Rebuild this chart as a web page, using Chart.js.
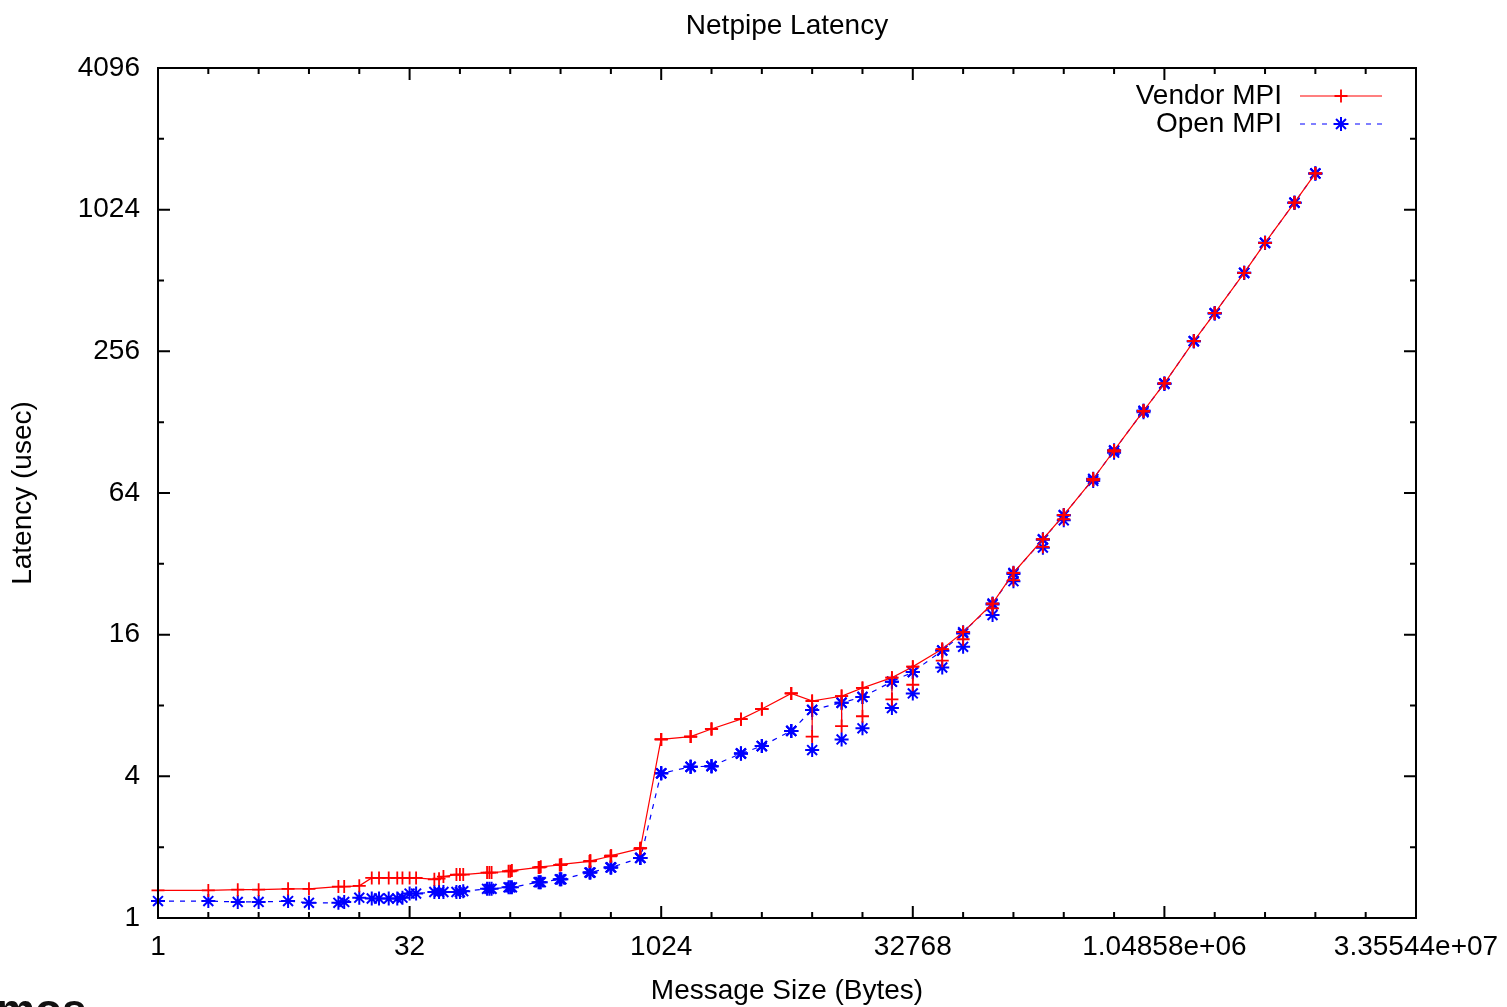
<!DOCTYPE html>
<html>
<head>
<meta charset="utf-8">
<title>Netpipe Latency</title>
<script src="https://cdn.jsdelivr.net/npm/chart.js@4/dist/chart.umd.min.js"></script>
<style>
  html, body { margin: 0; padding: 0; background: #fff; overflow: hidden; }
  #wrap { position: relative; width: 1507px; height: 1007px; }
  #logo { position: absolute; left: -4px; top: 988px; font: bold 44px "Liberation Sans", Arial, sans-serif; color: #111; line-height: 44px; }
</style>
</head>
<body>
<div id="wrap">
  <canvas id="chart" width="1507" height="1007"></canvas>
  <div id="logo">mos</div>
</div>
<script>
// message sizes (bytes), NetPIPE order: n-3, n, n+3
const sizes = [
  1, 2, 3, 4, 6, 8, 12, 13, 16, 19, 21, 24, 27, 29, 32, 35,
  45, 48, 51, 61, 64, 67, 93, 96, 99, 125, 128, 131,
  189, 192, 195, 253, 256, 259, 381, 384, 387, 509, 512, 515, 765, 768, 771,
  1021, 1024, 1027, 1533, 1536, 1539, 2045, 2048, 2051, 3069, 3072, 3075,
  4093, 4096, 4099, 6141, 6144, 6147, 8189, 8192, 8195, 12285, 12288, 12291,
  16381, 16384, 16387, 24573, 24576, 24579, 32765, 32768, 32771,
  49149, 49152, 49155, 65533, 65536, 65539, 98301, 98304, 98307,
  131069, 131072, 131075, 196605, 196608, 196611, 262141, 262144, 262147,
  393213, 393216, 393219, 524285, 524288, 524291, 786429, 786432, 786435,
  1048573, 1048576, 1048579, 1572861, 1572864, 1572867, 2097149, 2097152, 2097155,
  3145725, 3145728, 3145731, 4194301, 4194304, 4194307, 6291453, 6291456, 6291459,
  8388605, 8388608, 8388611
];

// latency in usec
const vendorMPI = [
  1.31, 1.31, 1.32, 1.32, 1.33, 1.33, 1.36, 1.36, 1.37, 1.48, 1.48, 1.48, 1.48, 1.48, 1.48, 1.48,
  1.46, 1.47, 1.50, 1.53, 1.53, 1.53, 1.56, 1.56, 1.56, 1.58, 1.58, 1.59,
  1.64, 1.64, 1.65, 1.68, 1.68, 1.69, 1.74, 1.75, 1.75, 1.83, 1.84, 1.84, 1.97, 1.98, 1.98,
  5.74, 5.74, 5.74, 5.9, 5.9, 5.9, 6.36, 6.36, 6.36, 7.0, 7.0, 7.0,
  7.73, 7.73, 7.73, 9.0, 9.0, 9.0, 8.36, 5.9, 8.36, 8.77, 6.54, 8.77,
  9.5, 7.2, 9.5, 10.5, 8.5, 10.5, 11.7, 9.8, 11.7,
  13.9, 12.4, 13.9, 16.4, 15.3, 16.4, 21.7, 20.7, 21.7,
  29.3, 27.3, 29.3, 40.7, 37.8, 40.7, 51.6, 49.5, 51.6,
  73.5, 72.5, 73.5, 97, 96, 97, 143, 142, 143,
  187, 187, 187, 283, 283, 283, 372, 372, 372,
  552, 552, 552, 740, 740, 740, 1097, 1097, 1097,
  1460, 1460, 1460
];

const openMPI = [
  1.18, 1.18, 1.17, 1.17, 1.18, 1.16, 1.16, 1.17, 1.22, 1.21, 1.21, 1.21, 1.21, 1.22, 1.27, 1.27,
  1.29, 1.29, 1.29, 1.29, 1.29, 1.30, 1.33, 1.33, 1.33, 1.35, 1.35, 1.35,
  1.42, 1.42, 1.42, 1.46, 1.46, 1.46, 1.56, 1.56, 1.56, 1.64, 1.64, 1.64, 1.80, 1.80, 1.80,
  4.12, 4.12, 4.12, 4.39, 4.39, 4.39, 4.42, 4.42, 4.42, 5.0, 5.0, 5.0,
  5.38, 5.38, 5.38, 6.24, 6.24, 6.24, 7.66, 5.17, 7.66, 8.22, 5.74, 8.22,
  8.7, 6.4, 8.7, 10.1, 7.8, 10.1, 11.1, 9.0, 11.1,
  13.7, 11.6, 13.7, 16.2, 14.2, 16.4, 21.5, 19.4, 21.7,
  29.0, 27.0, 29.3, 40.5, 37.5, 40.7, 51.3, 49.0, 51.6,
  73.3, 72.0, 73.5, 97, 95, 97, 143, 141, 143,
  187, 186, 187, 283, 282, 283, 372, 371, 372,
  552, 551, 552, 740, 739, 740, 1097, 1096, 1097,
  1460, 1459, 1460
];

const xTickValues = [1, 32, 1024, 32768, 1048576, 33554432];
const xTickLabels = ['1', '32', '1024', '32768', '1.04858e+06', '3.35544e+07'];
const yTickValues = [1, 4, 16, 64, 256, 1024, 4096];
const yTickLabels = ['1', '4', '16', '64', '256', '1024', '4096'];

const FONT = '28px "Liberation Sans", Arial, Helvetica, sans-serif';
const RED = '#ff0000';
const BLUE = '#0000ff';

function marker(ctx, style, x, y, r, color, w) {
  ctx.save();
  ctx.strokeStyle = color;
  ctx.lineWidth = w;
  ctx.setLineDash([]);
  ctx.beginPath();
  ctx.moveTo(x - r, y); ctx.lineTo(x + r, y);
  ctx.moveTo(x, y - r); ctx.lineTo(x, y + r);
  if (style === 'star') {
    const d = r * Math.SQRT1_2;
    ctx.moveTo(x - d, y - d); ctx.lineTo(x + d, y + d);
    ctx.moveTo(x - d, y + d); ctx.lineTo(x + d, y - d);
  }
  ctx.stroke();
  ctx.restore();
}

// gnuplot style box, inward ticks on all sides, labels and key
const gnuplotFrame = {
  id: 'gnuplotFrame',
  afterDraw(chart) {
    const ctx = chart.ctx;
    const a = chart.chartArea;
    const xs = chart.scales.x, ys = chart.scales.y;
    ctx.save();
    ctx.strokeStyle = '#000';
    ctx.lineWidth = 2;
    ctx.setLineDash([]);
    ctx.strokeRect(a.left, a.top, a.right - a.left, a.bottom - a.top);

    ctx.beginPath();
    for (let e = 0; e <= 25; e++) {
      const px = xs.getPixelForValue(Math.pow(2, e));
      const len = e % 5 === 0 ? 12 : 6;
      ctx.moveTo(px, a.bottom); ctx.lineTo(px, a.bottom - len);
      ctx.moveTo(px, a.top); ctx.lineTo(px, a.top + len);
    }
    for (let e = 0; e <= 12; e++) {
      const py = ys.getPixelForValue(Math.pow(2, e));
      const len = e % 2 === 0 ? 12 : 6;
      ctx.moveTo(a.left, py); ctx.lineTo(a.left + len, py);
      ctx.moveTo(a.right, py); ctx.lineTo(a.right - len, py);
    }
    ctx.stroke();

    ctx.fillStyle = '#000';
    ctx.font = FONT;
    ctx.textBaseline = 'middle';
    ctx.textAlign = 'center';
    xTickValues.forEach((v, i) => {
      ctx.fillText(xTickLabels[i], xs.getPixelForValue(v), a.bottom + 29);
    });
    ctx.textAlign = 'right';
    yTickValues.forEach((v, i) => {
      ctx.fillText(yTickLabels[i], a.left - 18, ys.getPixelForValue(v));
    });

    // titles
    ctx.textAlign = 'center';
    ctx.fillText('Netpipe Latency', (a.left + a.right) / 2, 26);
    ctx.fillText('Message Size (Bytes)', (a.left + a.right) / 2, 991);
    ctx.save();
    ctx.translate(23, (a.top + a.bottom) / 2);
    ctx.rotate(-Math.PI / 2);
    ctx.fillText('Latency (usec)', 0, 0);
    ctx.restore();

    // key
    ctx.textAlign = 'right';
    const keys = [
      { text: 'Vendor MPI', y: 96, color: RED, dash: [], style: 'cross', r: 6.5, w: 1.8 },
      { text: 'Open MPI', y: 124, color: BLUE, dash: [5, 6], style: 'star', r: 7, w: 2 }
    ];
    keys.forEach(k => {
      ctx.fillStyle = '#000';
      ctx.fillText(k.text, 1282, k.y);
      ctx.strokeStyle = k.color;
      ctx.lineWidth = 1.2;
      ctx.setLineDash(k.dash);
      ctx.beginPath();
      ctx.moveTo(1300, k.y); ctx.lineTo(1382, k.y);
      ctx.stroke();
      marker(ctx, k.style, 1341, k.y, k.r, k.color, k.w);
    });
    ctx.restore();
  }
};

new Chart(document.getElementById('chart'), {
  type: 'line',
  data: {
    datasets: [
      {
        label: 'Vendor MPI',
        data: sizes.map((s, i) => ({ x: s, y: vendorMPI[i] })),
        borderColor: RED,
        borderWidth: 1.2,
        pointStyle: 'cross',
        pointRadius: 6.5,
        pointBorderWidth: 1.8,
        pointBorderColor: RED,
        pointBackgroundColor: RED,
        fill: false,
        tension: 0,
        clip: false
      },
      {
        label: 'Open MPI',
        data: sizes.map((s, i) => ({ x: s, y: openMPI[i] })),
        borderColor: BLUE,
        borderWidth: 1.2,
        borderDash: [5, 6],
        pointStyle: 'star',
        pointRadius: 7,
        pointBorderWidth: 2,
        pointBorderColor: BLUE,
        pointBackgroundColor: BLUE,
        fill: false,
        tension: 0,
        clip: false
      }
    ]
  },
  options: {
    responsive: false,
    animation: false,
    devicePixelRatio: 1,
    layout: { padding: { left: 158, top: 68, right: 91, bottom: 89 } },
    plugins: {
      legend: { display: false },
      tooltip: { enabled: false },
      title: { display: false }
    },
    scales: {
      x: { type: 'logarithmic', min: 1, max: 33554432, bounds: 'data', display: false },
      y: { type: 'logarithmic', min: 1, max: 4096, bounds: 'data', display: false }
    }
  },
  plugins: [gnuplotFrame]
});
</script>
</body>
</html>
